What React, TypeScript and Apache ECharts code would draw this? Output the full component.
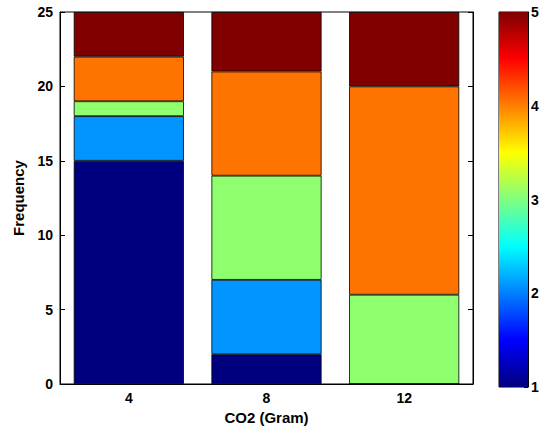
import React, { useEffect, useRef } from "react";
import * as echarts from "echarts";

const categories = ["4", "8", "12"];
const level1 = [15, 2, 0];
const level2 = [3, 5, 0];
const level3 = [1, 7, 6];
const level4 = [3, 7, 14];
const level5 = [3, 4, 5];
const levelColors = ["#00007F", "#0095FF", "#8FFF70", "#FF7300", "#800000"];
const yTicks = { min: 0, max: 25, interval: 5 };
const cbTicks = { min: 1, max: 5, interval: 0.5 };

const FONT = "'Liberation Sans', Arial, sans-serif";

export default function App() {
  const ref = useRef<HTMLDivElement>(null);
  useEffect(() => {
    if (!ref.current) return;
    const chart = echarts.init(ref.current, null, { renderer: "svg" });
    const levels = [level1, level2, level3, level4, level5];
    const labelStyle = { color: "#000", fontFamily: FONT, fontWeight: "bold" as const, fontSize: 14 };
    chart.setOption({
      animation: false,
      backgroundColor: "#fff",
      grid: [
        { left: 60, right: 74, top: 12, bottom: 43, show: true, borderColor: "#000", borderWidth: 1, outerBoundsMode: "none", containLabel: false },
        { left: 499, right: 19, top: 12, bottom: 40, show: true, borderColor: "#000", borderWidth: 1, outerBoundsMode: "none", containLabel: false },
      ],
      xAxis: [
        {
          type: "category",
          gridIndex: 0,
          data: categories,
          name: "CO2 (Gram)",
          nameLocation: "middle",
          nameGap: 26,
          nameTextStyle: { ...labelStyle, fontSize: 15 },
          axisLine: { lineStyle: { color: "#000" } },
          axisTick: { show: false },
          axisLabel: { ...labelStyle, margin: 7 },
        },
        {
          type: "category",
          gridIndex: 1,
          data: ["c"],
          axisLine: { show: false },
          axisTick: { show: false },
          axisLabel: { show: false },
        },
      ],
      yAxis: [
        {
          type: "value",
          gridIndex: 0,
          ...yTicks,
          name: "Frequency",
          nameLocation: "middle",
          nameGap: 34,
          nameRotate: 90,
          nameTextStyle: { ...labelStyle, fontSize: 15 },
          axisLine: { show: true, lineStyle: { color: "#000" } },
          axisTick: { show: true, inside: true, length: 5, lineStyle: { color: "#000" } },
          axisLabel: { ...labelStyle, margin: 7 },
          splitLine: { show: false },
        },
        {
          type: "value",
          gridIndex: 0,
          position: "right",
          ...yTicks,
          axisLine: { show: true, lineStyle: { color: "#000" } },
          axisTick: { show: true, inside: true, length: 5, lineStyle: { color: "#000" } },
          axisLabel: { show: false },
          splitLine: { show: false },
        },
        {
          type: "value",
          gridIndex: 1,
          position: "right",
          ...cbTicks,
          axisLine: { show: true, lineStyle: { color: "#000" } },
          axisTick: { show: true, inside: true, length: 4, lineStyle: { color: "#000" } },
          axisLabel: {
            ...labelStyle,
            margin: 3,
            formatter: (v: number) => (Number.isInteger(v) ? String(v) : ""),
          },
          splitLine: { show: false },
        },
      ],
      series: [
        ...levels.map((d, i) => ({
          type: "bar",
          name: "L" + (i + 1),
          xAxisIndex: 0,
          yAxisIndex: 0,
          stack: "total",
          data: d,
          barWidth: "80%",
          itemStyle: { color: levelColors[i], borderColor: "#000", borderWidth: 0.8 },
        })),
        {
          type: "bar",
          xAxisIndex: 1,
          yAxisIndex: 2,
          data: [cbTicks.max],
          barWidth: "100%",
          z: 1,
          itemStyle: {
            color: new echarts.graphic.LinearGradient(0, 1, 0, 0, [
              { offset: 0, color: "#00007F" },
              { offset: 0.125, color: "#0000FF" },
              { offset: 0.375, color: "#00FFFF" },
              { offset: 0.625, color: "#FFFF00" },
              { offset: 0.875, color: "#FF0000" },
              { offset: 1, color: "#7F0000" },
            ]),
          },
        },
      ],
    });
    return () => chart.dispose();
  }, []);
  return <div ref={ref} style={{ width: 547, height: 427, position: "absolute", left: 0, top: 0 }} />;
}
